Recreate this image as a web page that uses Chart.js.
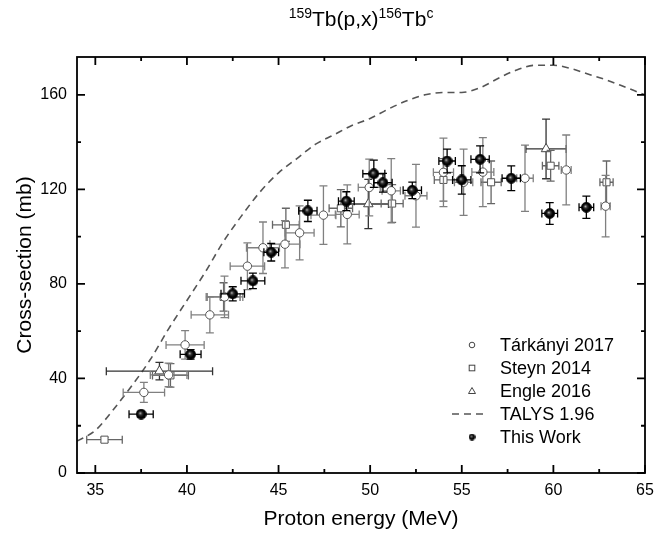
<!DOCTYPE html>
<html>
<head>
<meta charset="utf-8">
<script src="https://cdn.jsdelivr.net/npm/chart.js@4.4.0/dist/chart.umd.min.js"></script>
<style>
  body { margin: 0; background: #fff; }
  #wrap { position: relative; width: 670px; height: 533px; }
  #title { position: absolute; top: 7px; left: 211px; width: 300px; text-align: center;
           font: 21px "Liberation Sans", Arial, sans-serif; color: #000; }
  #title sup { font-size: 14px; position: relative; top: -8px; vertical-align: baseline; }
</style>
</head>
<body>
<div id="wrap">
  <canvas id="chart" width="670" height="533"></canvas>
  <div id="title"><sup>159</sup>Tb(p,x)<sup>156</sup>Tb<sup>c</sup></div>
</div>
<script>
// axis ticks
var xTicks = [35, 40, 45, 50, 55, 60, 65];
var xMinor = [37.5, 42.5, 47.5, 52.5, 57.5, 62.5];
var yTicks = [0, 40, 80, 120, 160];
var yMinor = [20, 60, 100, 140];

// This Work (energy MeV, cross-section mb, errors)
var twE     = [37.5, 40.2, 42.5, 43.6, 44.6, 46.6, 48.7, 50.2, 50.7, 52.3, 54.2, 55.0, 56.0, 57.7, 59.8, 61.8];
var twXS    = [24.9, 50.2, 75.8, 81.3, 93.4, 110.9, 115.0, 126.6, 122.8, 119.6, 132.0, 124.0, 132.7, 124.7, 109.8, 112.4];
var twEErr  = [0.66, 0.57, 0.64, 0.65, 0.4, 0.5, 0.43, 0.6, 0.5, 0.5, 0.45, 0.5, 0.5, 0.5, 0.43, 0.4];
var twXSErr = [1.2, 2, 3, 3.3, 3.7, 4.5, 4, 5.8, 4, 3.5, 5, 6, 5.7, 5.2, 4.6, 4.7];

// Tárkányi 2017
var tkE     = [37.65, 39.0, 39.9, 41.25, 42.05, 43.3, 44.15, 45.35, 46.15, 47.45, 48.75, 49.95, 51.15, 52.5, 54.0, 55.1, 56.15, 58.45, 60.7, 62.85];
var tkXS    = [34.1, 41.5, 54.2, 66.9, 74.5, 87.5, 95.3, 96.8, 101.6, 109.1, 109.4, 120.8, 119.4, 117.3, 127.2, 123.0, 127.3, 124.7, 128.2, 112.9];
var tkEErr  = [1.13, 1.0, 1.04, 1.02, 1.0, 0.94, 0.9, 0.82, 0.79, 0.68, 0.65, 0.6, 0.5, 0.6, 0.55, 0.5, 0.6, 0.45, 0.27, 0.25];
var tkXSErr = [4.2, 5, 6, 7.6, 8.8, 9.9, 10.9, 10, 11.4, 12.4, 12.5, 12, 13.6, 13.3, 14.5, 14, 14.6, 14, 14.8, 13];

// Steyn 2014
var stE     = [35.5, 39.1, 42.0, 45.4, 48.4, 51.2, 54.0, 56.6, 59.85, 62.9];
var stXS    = [14.1, 41.3, 74.5, 105, 112, 114, 124, 123, 130, 123];
var stEErr  = [0.97, 0.98, 0.9, 0.73, 0.64, 0.6, 0.5, 0.55, 0.45, 0.36];
var stXSErr = [1, 5, 6, 7, 7.9, 8, 9, 9, 6.5, 9];

// Engle 2016
var enE     = [38.5, 49.9, 59.6];
var enXS    = [43.1, 113.8, 137.1];
var enEErr  = [2.9, 1.1, 1.1];
var enXSErr = [3.7, 10.4, 12.6];

// TALYS 1.96
var talysE  = [34, 35, 36, 37, 38, 39, 40, 41, 42, 43, 44, 45, 46, 47, 48, 49, 50, 51, 52, 53, 54, 55, 56, 57, 58, 59, 60, 61, 62, 63, 64, 65];
var talysXS = [13.5, 18, 27, 37, 48, 61, 73, 85, 98, 109, 119, 127, 133, 139, 143, 147, 150, 154, 157.5, 160, 161, 161, 163, 167, 170.5, 172.5, 172.5, 171, 168.5, 166, 163, 160];

var legendLabels = ['Tárkányi 2017', 'Steyn 2014', 'Engle 2016', 'TALYS 1.96', 'This Work'];

function pts(xs, ys) {
    return xs.map(function(v, i) { return {x: v, y: ys[i]}; });
}

function makeBall(d) {
    var c = document.createElement('canvas');
    c.width = d; c.height = d;
    var g = c.getContext('2d');
    var r = d / 2;
    var grad = g.createRadialGradient(r * 0.8, r * 0.8, 0, r, r, r);
    grad.addColorStop(0, '#c8c8c8');
    grad.addColorStop(0.3, '#333');
    grad.addColorStop(0.65, '#000');
    grad.addColorStop(1, '#000');
    g.fillStyle = grad;
    g.beginPath(); g.arc(r, r, r - 0.6, 0, Math.PI * 2); g.fill();
    g.strokeStyle = '#000'; g.lineWidth = 1; g.stroke();
    return c;
}
var ball = makeBall(11);
var smallBall = makeBall(7);

var errorBars = {
    id: 'errorBars',
    beforeDatasetDraw: function(chart, args) {
        var ds = chart.data.datasets[args.index];
        if (!ds.errX) return;
        var xs = chart.scales.x, ys = chart.scales.y, ctx = chart.ctx;
        var cap = 4;
        ctx.save();
        ctx.strokeStyle = ds.errColor;
        ctx.lineWidth = 1.3;
        ds.data.forEach(function(p, i) {
            var px = xs.getPixelForValue(p.x), py = ys.getPixelForValue(p.y);
            var x0 = xs.getPixelForValue(p.x - ds.errX[i]), x1 = xs.getPixelForValue(p.x + ds.errX[i]);
            var y0 = ys.getPixelForValue(p.y - ds.errY[i]), y1 = ys.getPixelForValue(p.y + ds.errY[i]);
            ctx.beginPath();
            ctx.moveTo(x0, py); ctx.lineTo(x1, py);
            ctx.moveTo(x0, py - cap); ctx.lineTo(x0, py + cap);
            ctx.moveTo(x1, py - cap); ctx.lineTo(x1, py + cap);
            ctx.moveTo(px, y0); ctx.lineTo(px, y1);
            ctx.moveTo(px - cap, y0); ctx.lineTo(px + cap, y0);
            ctx.moveTo(px - cap, y1); ctx.lineTo(px + cap, y1);
            ctx.stroke();
        });
        ctx.restore();
    }
};

// box and inward ticks on all four sides
var frame = {
    id: 'frame',
    afterDraw: function(chart) {
        var a = chart.chartArea, ctx = chart.ctx;
        var xs = chart.scales.x, ys = chart.scales.y;
        ctx.save();
        ctx.strokeStyle = '#000';
        ctx.lineWidth = 1.8;
        ctx.strokeRect(a.left, a.top, a.right - a.left, a.bottom - a.top);
        ctx.beginPath();
        function xt(v, len) {
            var p = xs.getPixelForValue(v);
            ctx.moveTo(p, a.bottom); ctx.lineTo(p, a.bottom - len);
            ctx.moveTo(p, a.top); ctx.lineTo(p, a.top + len);
        }
        function yt(v, len) {
            var p = ys.getPixelForValue(v);
            ctx.moveTo(a.left, p); ctx.lineTo(a.left + len, p);
            ctx.moveTo(a.right, p); ctx.lineTo(a.right - len, p);
        }
        xTicks.forEach(function(v) { xt(v, 8); });
        xMinor.forEach(function(v) { xt(v, 4); });
        yTicks.forEach(function(v) { yt(v, 8); });
        yMinor.forEach(function(v) { yt(v, 4); });
        ctx.stroke();
        ctx.restore();
    }
};

var legendBox = {
    id: 'legendBox',
    afterDraw: function(chart) {
        var ctx = chart.ctx;
        var sx = 472, tx = 500, y0 = 345, dy = 23;
        ctx.save();
        ctx.font = '18px "Liberation Sans", Arial, sans-serif';
        ctx.textBaseline = 'middle';
        ctx.fillStyle = '#000';
        legendLabels.forEach(function(lab, i) {
            var y = y0 + i * dy;
            ctx.fillText(lab, tx, y + 1);
            ctx.strokeStyle = '#444';
            ctx.lineWidth = 1;
            ctx.fillStyle = '#fff';
            if (i === 0) {
                ctx.beginPath(); ctx.arc(sx, y, 2.8, 0, Math.PI * 2); ctx.fill(); ctx.stroke();
            } else if (i === 1) {
                ctx.fillRect(sx - 2.8, y - 2.8, 5.6, 5.6); ctx.strokeRect(sx - 2.8, y - 2.8, 5.6, 5.6);
            } else if (i === 2) {
                ctx.beginPath(); ctx.moveTo(sx, y - 3.5); ctx.lineTo(sx + 3.5, y + 2.5); ctx.lineTo(sx - 3.5, y + 2.5); ctx.closePath();
                ctx.fill(); ctx.stroke();
            } else if (i === 3) {
                ctx.strokeStyle = '#555'; ctx.lineWidth = 1.5;
                ctx.setLineDash([7, 5]);
                ctx.beginPath(); ctx.moveTo(452, y); ctx.lineTo(488, y); ctx.stroke();
                ctx.setLineDash([]);
            } else {
                ctx.drawImage(smallBall, sx - 3.5, y - 3.5);
            }
            ctx.fillStyle = '#000';
        });
        ctx.restore();
    }
};

var font16 = {family: '"Liberation Sans", Arial, sans-serif', size: 16};

new Chart(document.getElementById('chart').getContext('2d'), {
    type: 'scatter',
    data: {
        datasets: [
            {
                label: 'This Work',
                data: pts(twE, twXS),
                errX: twEErr, errY: twXSErr, errColor: '#000',
                pointStyle: ball,
                pointRadius: 5.5
            },
            {
                label: 'Tárkányi 2017',
                data: pts(tkE, tkXS),
                errX: tkEErr, errY: tkXSErr, errColor: '#808080',
                pointStyle: 'circle',
                pointRadius: 4.2,
                backgroundColor: '#fff',
                borderColor: '#555',
                borderWidth: 1
            },
            {
                label: 'Steyn 2014',
                data: pts(stE, stXS),
                errX: stEErr, errY: stXSErr, errColor: '#666',
                pointStyle: 'rect',
                pointRadius: 5,
                backgroundColor: '#fff',
                borderColor: '#555',
                borderWidth: 1
            },
            {
                label: 'Engle 2016',
                data: pts(enE, enXS),
                errX: enEErr, errY: enXSErr, errColor: '#333',
                pointStyle: 'triangle',
                pointRadius: 5.5,
                backgroundColor: '#fff',
                borderColor: '#444',
                borderWidth: 1
            },
            {
                label: 'TALYS 1.96',
                data: pts(talysE, talysXS),
                showLine: true,
                pointRadius: 0,
                borderColor: '#555',
                borderWidth: 1.6,
                borderDash: [7, 5],
                cubicInterpolationMode: 'monotone',
                fill: false
            }
        ]
    },
    options: {
        responsive: false,
        animation: false,
        devicePixelRatio: 1,
        layout: { padding: { top: 57, right: 25, left: 0, bottom: 0 } },
        plugins: {
            legend: { display: false },
            tooltip: { enabled: false },
            title: { display: false }
        },
        scales: {
            x: {
                type: 'linear',
                min: 34, max: 65,
                grid: { display: false, drawTicks: false },
                border: { display: false },
                afterBuildTicks: function(s) { s.ticks = xTicks.map(function(v) { return {value: v}; }); },
                afterFit: function(s) { s.height = 60; },
                ticks: { color: '#000', font: font16, padding: 8, maxRotation: 0 },
                title: {
                    display: true, text: 'Proton energy (MeV)', color: '#000',
                    font: {family: '"Liberation Sans", Arial, sans-serif', size: 21},
                    padding: { top: 0, bottom: 1 }
                }
            },
            y: {
                type: 'linear',
                min: 0, max: 176,
                grid: { display: false, drawTicks: false },
                border: { display: false },
                afterBuildTicks: function(s) { s.ticks = yTicks.map(function(v) { return {value: v}; }); },
                afterFit: function(s) { s.width = 77; },
                ticks: { color: '#000', font: font16, padding: 10 },
                title: {
                    display: true, text: 'Cross-section (mb)', color: '#000',
                    font: {family: '"Liberation Sans", Arial, sans-serif', size: 21},
                    padding: { top: 13, bottom: 0 }
                }
            }
        }
    },
    plugins: [errorBars, frame, legendBox]
});
</script>
</body>
</html>
